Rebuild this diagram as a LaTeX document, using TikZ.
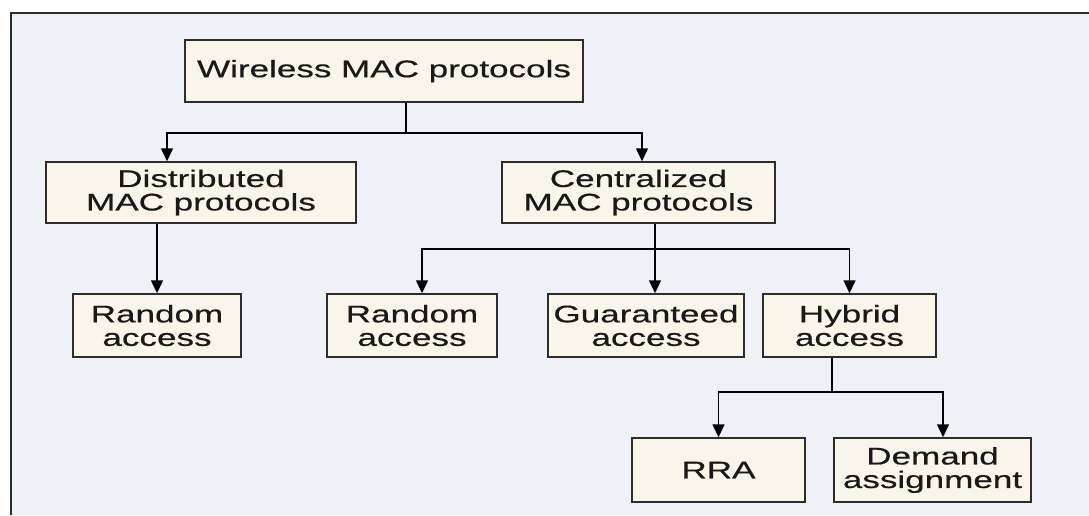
\documentclass[tikz,border=0pt]{standalone}
\usepackage{fontspec}
\setmainfont{Liberation Sans}[FakeStretch=1.46,FakeBold=0.5]
\usepackage{tikz}
\usetikzlibrary{arrows.meta,positioning}
\definecolor{panelbg}{RGB}{238,241,247}
\definecolor{boxfill}{RGB}{251,244,232}
\definecolor{linegray}{RGB}{45,45,45}

\begin{document}
\begin{tikzpicture}[
    x=1pt, y=-1pt,
    box/.style={rectangle, draw=linegray, line width=1.5pt, fill=boxfill, inner sep=0pt, align=center, font=\fontsize{24}{23.5}\selectfont, text=black!90},
    arrow/.style={-{Triangle[length=13pt,width=12pt]}, line width=1.5pt}
]
\useasboundingbox (0,0) rectangle (1089,515);
\fill[white] (0,0) rectangle (1089,515);
\fill[panelbg] (11,13) rectangle (1089,515);
\draw[linegray, line width=2pt] (11,515) -- (11,13) -- (1089,13);

\node[box, minimum width=398pt, minimum height=62pt] (wireless) at (384,71) {Wireless MAC protocols};
\node[box, minimum width=310pt, minimum height=61pt] (distributed) at (201,192.5) {Distributed\\MAC protocols};
\node[box, minimum width=273pt, minimum height=61pt] (centralized) at (638.5,192.5) {Centralized\\MAC protocols};
\node[box, minimum width=168pt, minimum height=63pt] (randomA) at (157,325.5) {Random\\access};
\node[box, minimum width=170pt, minimum height=63pt] (randomB) at (412,325.5) {Random\\access};
\node[box, minimum width=196pt, minimum height=63pt] (guaranteed) at (646,325.5) {Guaranteed\\access};
\node[box, minimum width=173pt, minimum height=63pt] (hybrid) at (849.5,325.5) {Hybrid\\access};
\node[box, minimum width=173pt, minimum height=64pt] (rra) at (718.5,470) {RRA};
\node[box, minimum width=197pt, minimum height=64pt] (demand) at (932.5,470) {Demand\\assignment};

\coordinate (wbus) at (406,133);
\draw[line width=1.5pt] (wireless.south -| wbus) -- (wbus);
\draw[arrow] (wbus) -| ([xshift=-34pt]distributed.north);
\draw[arrow] (wbus) -| ([xshift=3.5pt]centralized.north);

\draw[arrow] (distributed.south -| randomA.north) -- (randomA.north);

\coordinate (cbus) at (655,249);
\draw[line width=1.5pt] (centralized.south -| cbus) -- (cbus);
\draw[arrow] (cbus) -| ([xshift=10pt]randomB.north);
\draw[arrow] (cbus) -- ([xshift=9pt]guaranteed.north);
\draw[arrow] (cbus) -| (hybrid.north);

\coordinate (hbus) at (832,392);
\draw[line width=1.5pt] (hybrid.south -| hbus) -- (hbus);
\draw[arrow] (hbus) -| (rra.north);
\draw[arrow] (hbus) -| ([xshift=10.5pt]demand.north);

\end{tikzpicture}
\end{document}
